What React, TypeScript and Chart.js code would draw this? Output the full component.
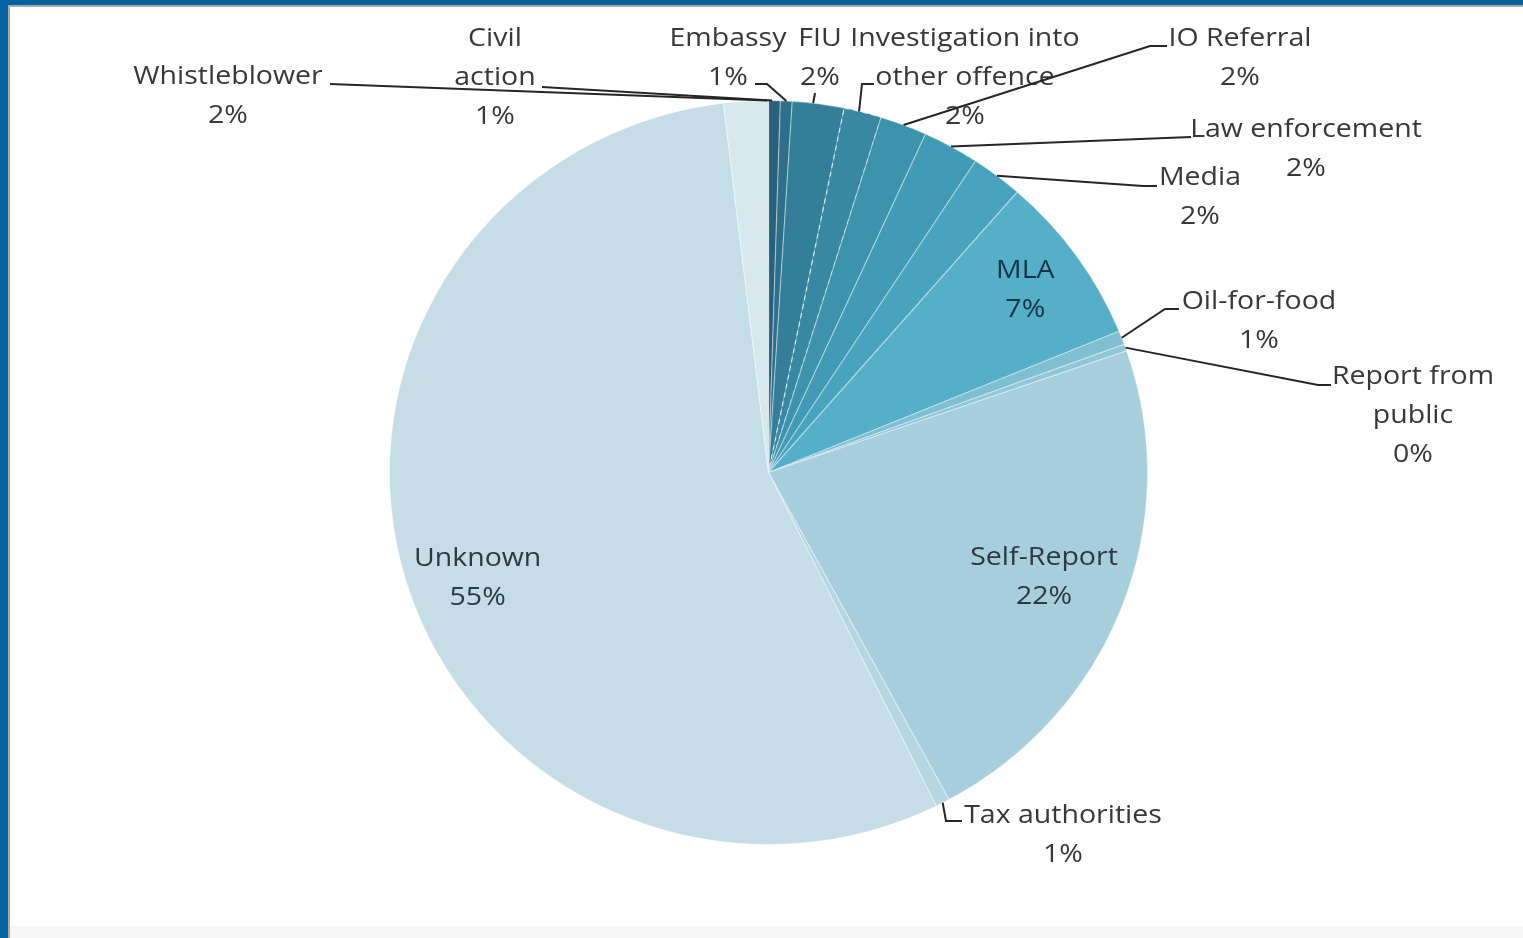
import React, { useEffect, useRef } from "react";
import { Chart, registerables } from "chart.js";

Chart.register(...registerables);

// ---------- data ----------
const categories = [
  "Civil action",
  "Embassy",
  "FIU",
  "Investigation into other offence",
  "IO Referral",
  "Law enforcement",
  "Media",
  "MLA",
  "Oil-for-food",
  "Report from public",
  "Self-Report",
  "Tax authorities",
  "Unknown",
  "Whistleblower",
];
// share of cases, per mille (percent labels are derived from these)
const caseShares = [5, 5, 22, 16, 20, 24, 22, 74, 6, 3, 224, 6, 554, 19];

const sliceColors = [
  "#27617c",
  "#2d708b",
  "#337e99",
  "#3888a3",
  "#3d92ad",
  "#429bb6",
  "#48a4be",
  "#55afc8",
  "#7fbfd2",
  "#8fc7d7",
  "#a7cedc",
  "#b6d6e1",
  "#c4dde6",
  "#d7e8ee",
];

// ---------- layout / style ----------
const FRAME_BLUE = "#0462a0";
const SX = 1.019; // slight horizontal stretch of the pie, as in the source image
const TEXT_SX = 1.14; // horizontal stretch of the label text, as in the source image
const FONT = '500 25px "Open Sans"';
const LINE_H = 39;
const TEXT_COLOR = "#383838";

type Outside = {
  index: number;
  x: number;
  y: number;
  breaks: number[];
  path: [number, number][];
  at: number;
};
type Inside = { index: number; f: number; dx: number; dy: number; color: string };

const outsideLabels: Outside[] = [
  { index: 13, x: 228, y: 77, breaks: [], path: [[330, 84]], at: 0.97 },
  { index: 0, x: 495, y: 39, breaks: [1], path: [[542, 87]], at: 0.3 },
  { index: 1, x: 728, y: 39, breaks: [], path: [[755, 84], [767, 84]], at: 0.5 },
  { index: 2, x: 820, y: 39, breaks: [], path: [[815, 93]], at: 0.4 },
  { index: 3, x: 965, y: 39, breaks: [2], path: [[874, 84], [862, 84]], at: 0.4 },
  { index: 4, x: 1240, y: 39, breaks: [], path: [[1167, 46], [1150, 46]], at: 0.5 },
  { index: 5, x: 1306, y: 130, breaks: [], path: [[1191, 137]], at: 0.5 },
  { index: 6, x: 1200, y: 178, breaks: [], path: [[1157, 186], [1143, 186]], at: 0.5 },
  { index: 8, x: 1259, y: 302, breaks: [], path: [[1179, 309], [1165, 309]], at: 0.5 },
  { index: 9, x: 1413, y: 377, breaks: [2], path: [[1331, 385], [1318, 385]], at: 0.5 },
  { index: 11, x: 1063, y: 816, breaks: [], path: [[962, 821], [946, 821]], at: 0.5 },
];

const insideLabels: Inside[] = [
  { index: 7, f: 0.85, dx: -5, dy: 2, color: "#163447" },
  { index: 10, f: 0.78, dx: 0, dy: 0, color: "#2e393f" },
  { index: 12, f: 0.82, dx: 7, dy: 19, color: "#2e393f" },
];

function percentText(i: number): string {
  const total = caseShares.reduce((a, b) => a + b, 0);
  return Math.round((caseShares[i] * 100) / total) + "%";
}

function splitName(name: string, breaks: number[]): string[] {
  const words = name.split(" ");
  const out: string[] = [];
  let start = 0;
  for (const b of breaks) {
    out.push(words.slice(start, b).join(" "));
    start = b;
  }
  out.push(words.slice(start).join(" "));
  return out;
}

function drawText(ctx: CanvasRenderingContext2D, s: string, x: number, y: number) {
  ctx.save();
  ctx.translate(x, y);
  ctx.scale(TEXT_SX, 1);
  ctx.fillText(s, 0, 0);
  ctx.restore();
}

const ellipsePlugin = {
  id: "ellipseStretch",
  beforeDatasetsDraw(chart: any) {
    const arc = chart.getDatasetMeta(0).data[0];
    const ctx = chart.ctx;
    ctx.save();
    ctx.translate(arc.x, arc.y);
    ctx.scale(SX, 1);
    ctx.translate(-arc.x, -arc.y);
  },
  afterDatasetsDraw(chart: any) {
    chart.ctx.restore();
  },
};

const labelPlugin = {
  id: "pieLabels",
  afterDraw(chart: any) {
    const ctx = chart.ctx as CanvasRenderingContext2D;
    const meta = chart.getDatasetMeta(0);
    ctx.save();
    ctx.font = FONT;
    ctx.textAlign = "center";
    ctx.textBaseline = "middle";

    for (const l of outsideLabels) {
      const arc = meta.data[l.index] as any;
      const p = arc.getProps(["x", "y", "startAngle", "endAngle", "outerRadius"], true);
      const a = p.startAngle + l.at * (p.endAngle - p.startAngle);
      const tx = p.x + SX * p.outerRadius * Math.cos(a);
      const ty = p.y + p.outerRadius * Math.sin(a);
      ctx.beginPath();
      ctx.moveTo(l.path[0][0], l.path[0][1]);
      for (let k = 1; k < l.path.length; k++) ctx.lineTo(l.path[k][0], l.path[k][1]);
      ctx.lineTo(tx, ty);
      ctx.strokeStyle = "#262626";
      ctx.lineWidth = 2;
      ctx.stroke();

      const lines = [...splitName(categories[l.index], l.breaks), percentText(l.index)];
      ctx.fillStyle = TEXT_COLOR;
      lines.forEach((s, k) => drawText(ctx, s, l.x, l.y + k * LINE_H));
    }

    for (const l of insideLabels) {
      const arc = meta.data[l.index] as any;
      const p = arc.getProps(["x", "y", "startAngle", "endAngle", "outerRadius"], true);
      const a = (p.startAngle + p.endAngle) / 2;
      const cx = p.x + SX * p.outerRadius * l.f * Math.cos(a) + l.dx;
      const cy = p.y + p.outerRadius * l.f * Math.sin(a) + l.dy;
      ctx.fillStyle = l.color;
      drawText(ctx, categories[l.index], cx, cy - LINE_H / 2);
      drawText(ctx, percentText(l.index), cx, cy + LINE_H / 2);
    }
    ctx.restore();
  },
};

export default function App() {
  const ref = useRef<HTMLCanvasElement | null>(null);

  useEffect(() => {
    if (!ref.current) return;
    const chart = new Chart(ref.current, {
      type: "pie",
      data: {
        labels: categories,
        datasets: [
          {
            data: caseShares,
            backgroundColor: sliceColors,
            borderColor: (c: any) =>
              c.dataIndex === 3 ? "rgba(255,255,255,0.7)" : "rgba(255,255,255,0.35)",
            borderWidth: 1.2,
            borderDash: (c: any) => (c.dataIndex === 3 ? [5, 4] : []),
          } as any,
        ],
      },
      options: {
        responsive: false,
        animation: false,
        devicePixelRatio: 1,
        layout: { padding: { top: 100, bottom: 93, left: 396, right: 382 } },
        plugins: {
          legend: { display: false },
          tooltip: { enabled: false },
        },
      },
      plugins: [ellipsePlugin, labelPlugin],
    });
    return () => chart.destroy();
  }, []);

  return (
    <div
      style={{
        position: "fixed",
        left: 0,
        top: 0,
        width: 1523,
        height: 938,
        background: "#ffffff",
        overflow: "hidden",
      }}
    >
      <canvas
        ref={ref}
        width={1523}
        height={938}
        style={{ position: "absolute", left: 0, top: 0, width: 1523, height: 938 }}
      />
      <div style={{ position: "absolute", left: 0, top: 0, width: 1523, height: 5, background: FRAME_BLUE }} />
      <div style={{ position: "absolute", left: 8, top: 5, width: 1515, height: 2, background: "#a9a9a9" }} />
      <div style={{ position: "absolute", left: 0, top: 0, width: 8, height: 938, background: FRAME_BLUE }} />
      <div style={{ position: "absolute", left: 8, top: 5, width: 2, height: 933, background: "#a9a9a9" }} />
      <div style={{ position: "absolute", left: 10, top: 926, width: 1513, height: 12, background: "#f6f6f6" }} />
    </div>
  );
}
